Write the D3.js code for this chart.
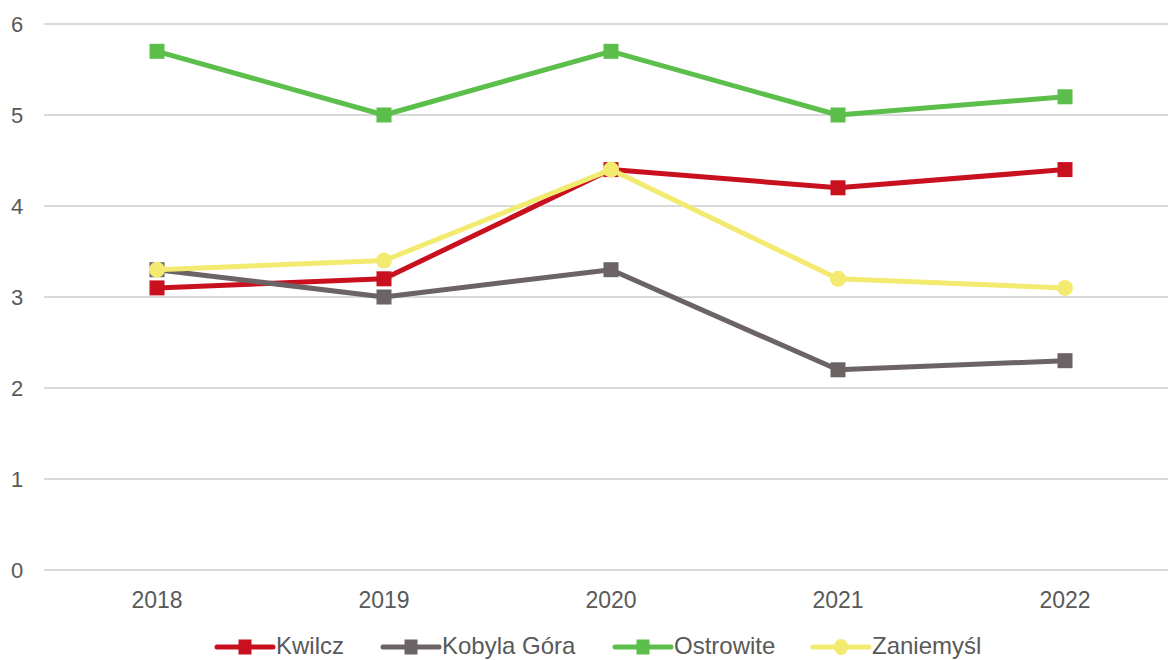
<!DOCTYPE html>
<html>
<head>
<meta charset="utf-8">
<script src="https://cdn.jsdelivr.net/npm/d3@7"></script>
<style>
  body { margin: 0; background: #fff; }
  text { font-family: "Liberation Sans", Arial, sans-serif; }
</style>
</head>
<body>
<div id="vis"></div>
<script>
// declare constants
const FRAME_WIDTH = 1168;
const FRAME_HEIGHT = 660;

// data
const YEARS = ["2018", "2019", "2020", "2021", "2022"];
const SERIES_NAMES = ["Kwilcz", "Kobyla Góra", "Ostrowite", "Zaniemyśl"];
const KWILCZ = [3.1, 3.2, 4.4, 4.2, 4.4];
const KOBYLA_GORA = [3.3, 3.0, 3.3, 2.2, 2.3];
const OSTROWITE = [5.7, 5.0, 5.7, 5.0, 5.2];
const ZANIEMYSL = [3.3, 3.4, 4.4, 3.2, 3.1];
const Y_TICKS = [0, 1, 2, 3, 4, 5, 6];

const COLORS = ["#c8101f", "#6b6364", "#5cbf4b", "#f3ea70"];
const MARKERS = ["square", "square", "square", "circle"];
const VALUES = [KWILCZ, KOBYLA_GORA, OSTROWITE, ZANIEMYSL];

const SVG = d3.select("#vis")
  .append("svg")
    .attr("width", FRAME_WIDTH)
    .attr("height", FRAME_HEIGHT);

// scales
const X_SCALE = d3.scaleBand()
  .domain(YEARS)
  .range([43.5, 1178.5]);
const Y_SCALE = d3.scaleLinear()
  .domain([0, 6])
  .range([570, 24]);

// gridlines
SVG.append("g")
  .selectAll("line")
  .data(Y_TICKS)
  .enter()
  .append("line")
    .attr("x1", 44)
    .attr("x2", FRAME_WIDTH)
    .attr("y1", (d) => Y_SCALE(d))
    .attr("y2", (d) => Y_SCALE(d))
    .attr("stroke", "#d9d9d9")
    .attr("stroke-width", 2);

// y axis labels
SVG.append("g")
  .selectAll("text")
  .data(Y_TICKS)
  .enter()
  .append("text")
    .attr("x", 17)
    .attr("y", (d) => Y_SCALE(d) + 8)
    .attr("text-anchor", "middle")
    .attr("font-size", "22px")
    .attr("fill", "#595959")
    .text((d) => d);

// x axis labels
SVG.append("g")
  .selectAll("text")
  .data(YEARS)
  .enter()
  .append("text")
    .attr("x", (d) => X_SCALE(d) + X_SCALE.bandwidth() / 2)
    .attr("y", 608)
    .attr("text-anchor", "middle")
    .attr("font-size", "23px")
    .attr("fill", "#595959")
    .text((d) => d);

const xPos = (i) => X_SCALE(YEARS[i]) + X_SCALE.bandwidth() / 2;

const LINE = d3.line()
  .x((d, i) => xPos(i))
  .y((d) => Y_SCALE(d));

function drawMarker(g, shape, color, x, y, w, h) {
  if (shape === "square") {
    g.append("rect")
      .attr("x", x - w / 2).attr("y", y - h / 2)
      .attr("width", w).attr("height", h)
      .attr("fill", color);
  } else {
    g.append("ellipse")
      .attr("cx", x).attr("cy", y).attr("rx", w / 2 + 0.5).attr("ry", h / 2 + 0.5)
      .attr("fill", color);
  }
}

// series
VALUES.forEach((vals, s) => {
  const g = SVG.append("g");
  g.append("path")
    .datum(vals)
    .attr("d", LINE)
    .attr("fill", "none")
    .attr("stroke", COLORS[s])
    .attr("stroke-width", 5)
    .attr("stroke-linejoin", "round")
    .attr("stroke-linecap", "round");
  vals.forEach((v, i) => drawMarker(g, MARKERS[s], COLORS[s], xPos(i), Y_SCALE(v), 15, 15));
});

// legend
const LEGEND_X = [217, 383, 615, 813];
SERIES_NAMES.forEach((name, s) => {
  const g = SVG.append("g");
  const x0 = LEGEND_X[s];
  const y0 = 647;
  g.append("line")
    .attr("x1", x0).attr("x2", x0 + 56)
    .attr("y1", y0).attr("y2", y0)
    .attr("stroke", COLORS[s])
    .attr("stroke-width", 5)
    .attr("stroke-linecap", "round");
  drawMarker(g, MARKERS[s], COLORS[s], x0 + 28, y0, 13, 15);
  g.append("text")
    .attr("x", x0 + 59)
    .attr("y", 654)
    .attr("font-size", "24px")
    .attr("fill", "#595959")
    .text(name);
});
</script>
</body>
</html>
